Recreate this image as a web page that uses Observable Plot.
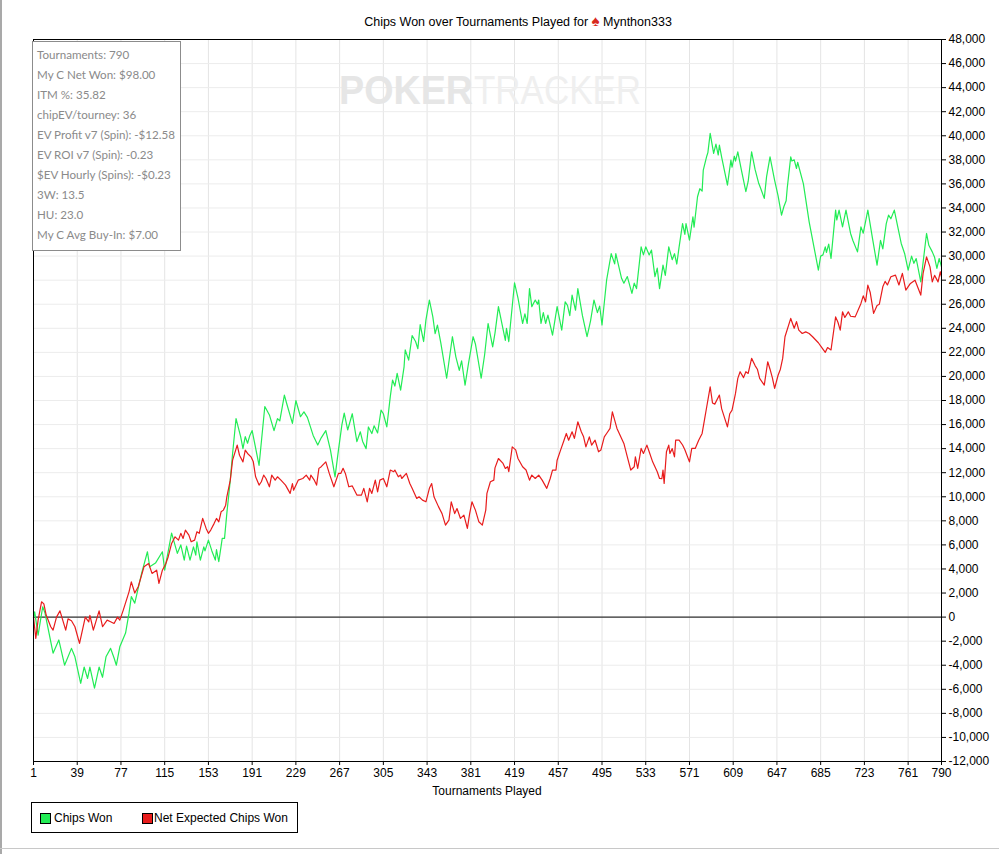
<!DOCTYPE html>
<html>
<head>
<meta charset="utf-8">
<script src="https://cdn.jsdelivr.net/npm/d3@7"></script>
<script src="https://cdn.jsdelivr.net/npm/@observablehq/plot@0.6"></script>
<style>
  body { margin: 0; background: #fff; }
  #wrap { position: relative; width: 999px; height: 854px; overflow: hidden; font-family: "Liberation Sans", Arial, sans-serif; color: #000; }
  #chart { position: absolute; left: 0; top: 0; }
  #title { position: absolute; left: 0; top: 14px; width: 1036px; text-align: center; font-size: 12.5px; line-height: 14px; white-space: nowrap; }
  #title .spade { color: #d8281c; font-size: 15px; }
  #stats { position: absolute; left: 32px; top: 41px; width: 149px; height: 210px; border: 1px solid #8c8c8c; background: #fff; font-family: Lato, "Open Sans", sans-serif; font-size: 11.6px; color: #8a8a8a; padding-top: 3px; box-sizing: border-box; }
  #stats div { height: 20px; line-height: 20px; padding-left: 4px; white-space: nowrap; }
  #xlabel { position: absolute; left: 0; top: 784px; width: 974px; text-align: center; font-size: 12px; line-height: 14px; }
  #legend { position: absolute; left: 31px; top: 802px; width: 267px; height: 31px; border: 1px solid #000; box-sizing: border-box; font-size: 12px; }
  #legend .sw { position: absolute; top: 10px; width: 9px; height: 9px; border: 1px solid #000; }
  #legend .lb { position: absolute; top: 8px; line-height: 14px; white-space: nowrap; }
  #wm { position: absolute; left: 0; top: 0; }
  #edgeL { position: absolute; left: 0; top: 0; width: 2px; height: 854px; background: #a9a9a9; }
  #edgeB { position: absolute; left: 0; top: 848px; width: 999px; height: 1px; background: #c8c8c8; }
</style>
</head>
<body>
<div id="wrap">
  <div id="chart"></div>
  <svg id="wm" width="999" height="120">
    <text id="wmP" x="339" y="104" font-family="Liberation Sans, Arial, sans-serif" font-size="40" font-weight="bold" fill="#e6e6e6" textLength="134" lengthAdjust="spacingAndGlyphs"></text>
    <text id="wmT" x="474" y="104" font-family="Liberation Sans, Arial, sans-serif" font-size="40" fill="#efefef" textLength="167" lengthAdjust="spacingAndGlyphs"></text>
  </svg>
  <div id="title"></div>
  <div id="stats"></div>
  <div id="xlabel"></div>
  <div id="legend"></div>
  <div id="edgeL"></div>
  <div id="edgeB"></div>
</div>
<script>
// ---- data ----
const titleText = "Chips Won over Tournaments Played for";
const playerName = "Mynthon333";
const xAxisTitle = "Tournaments Played";
const watermarkBold = "POKER";
const watermarkLight = "TRACKER";
const statsLines = [
  "Tournaments: 790",
  "My C Net Won: $98.00",
  "ITM %: 35.82",
  "chipEV/tourney: 36",
  "EV Profit v7 (Spin): -$12.58",
  "EV ROI v7 (Spin): -0.23",
  "$EV Hourly (Spins): -$0.23",
  "3W: 13.5",
  "HU: 23.0",
  "My C Avg Buy-In: $7.00"
];
const seriesNames = ["Chips Won", "Net Expected Chips Won"];
const seriesColors = ["#22ec55", "#e81c1c"];
const xTicks = [1,39,77,115,153,191,229,267,305,343,381,419,457,495,533,571,609,647,685,723,761,790];
const yTicks = [-12000,-10000,-8000,-6000,-4000,-2000,0,2000,4000,6000,8000,10000,12000,14000,16000,18000,20000,22000,24000,26000,28000,30000,32000,34000,36000,38000,40000,42000,44000,46000,48000];

// [tournament, chips]
const chipsWon = [[1,0],[2,440],[5,-1500],[9,860],[11,330],[18,-3000],[23,-1900],[28,-4000],[34,-2600],[37,-3300],[42,-5500],[45,-4150],[48,-5100],[50,-4150],[54,-5900],[58,-4150],[61,-5000],[64,-3300],[68,-2600],[71,-3400],[73,-4000],[76,-2470],[81,-1330],[84,330],[86,1700],[89,1160],[95,3650],[100,5430],[102,4180],[107,4490],[113,5430],[115,3900],[121,6980],[126,5300],[129,6000],[132,4740],[134,5900],[137,4740],[140,5840],[142,5150],[143,6260],[146,4740],[149,5840],[150,5500],[153,6400],[156,5500],[159,4740],[160,5600],[162,4600],[165,6540],[167,6540],[169,8620],[172,11380],[174,13600],[177,16500],[181,15000],[183,14000],[185,15000],[187,14450],[189,15100],[191,15500],[197,12600],[202,17500],[206,16800],[210,15500],[213,16500],[215,16300],[219,18450],[221,17750],[226,16100],[229,18000],[233,16650],[236,17060],[239,16600],[244,15100],[248,14300],[251,14900],[255,15500],[259,13900],[263,11650],[266,13900],[269,16000],[271,16950],[274,15550],[278,16900],[282,14580],[285,15400],[287,14600],[290,14000],[292,15800],[295,15250],[297,15900],[300,15300],[303,17200],[305,16900],[308,15800],[311,18300],[313,19700],[315,19200],[317,20250],[320,18860],[323,20800],[324,22200],[327,21360],[330,23400],[333,22900],[335,22300],[337,24300],[340,22900],[342,24700],[345,26350],[348,24950],[350,23550],[352,24270],[355,22750],[360,19850],[365,23300],[368,21630],[371,20500],[373,21300],[376,19280],[379,21080],[383,23300],[385,22700],[390,19850],[393,21800],[396,24400],[400,22460],[402,23600],[405,25800],[411,23000],[412,24000],[414,22900],[419,27780],[422,26500],[426,24400],[428,25200],[430,24400],[432,27300],[434,25800],[437,26350],[439,26000],[440,26350],[442,24400],[444,25300],[446,24400],[448,25100],[452,23430],[456,25800],[460,23850],[463,26200],[465,25900],[467,25050],[469,26760],[472,25500],[474,27300],[478,25050],[482,23300],[485,24600],[488,26350],[491,25300],[493,25850],[495,24270],[499,28000],[501,29100],[503,30200],[506,29350],[507,30200],[512,28150],[514,27750],[517,28300],[521,26900],[523,27750],[525,27300],[529,30770],[531,30100],[533,30770],[536,30100],[538,30500],[541,28300],[543,29000],[545,27300],[548,29250],[550,28400],[553,30770],[556,29700],[558,30200],[560,29340],[562,30770],[565,32700],[567,31800],[568,32700],[571,31330],[574,33270],[575,32400],[578,34930],[580,35600],[582,35400],[583,37150],[586,38300],[587,38600],[589,40200],[592,38530],[594,39300],[596,38400],[597,39220],[599,38200],[604,35900],[607,37980],[608,37400],[610,38300],[611,37900],[613,38670],[616,37200],[620,35350],[622,36200],[625,38670],[628,37200],[631,36100],[633,35600],[636,34800],[638,36600],[641,38250],[645,36300],[648,35000],[651,33400],[653,34100],[655,34600],[656,35700],[659,38250],[660,37900],[662,38000],[664,37280],[665,37800],[670,36000],[675,32850],[683,28840],[685,30000],[687,30100],[689,30770],[690,30300],[692,31000],[694,29800],[698,33820],[699,33000],[701,33820],[704,32430],[707,33820],[711,31880],[713,31300],[717,30350],[720,32430],[722,31900],[726,33820],[730,31500],[734,29250],[737,31300],[739,30600],[742,32700],[744,33400],[746,33100],[749,33820],[752,32430],[755,31050],[758,30200],[761,28840],[764,30000],[766,29400],[768,29800],[772,27860],[777,31880],[779,30900],[782,30350],[784,29900],[786,28980],[788,29800],[790,29100]];

const netExpected = [[1,0],[3,-1770],[5,-250],[8,1270],[10,1100],[12,170],[16,-800],[18,-1080],[21,0],[24,520],[29,-1080],[31,-150],[34,-300],[37,-800],[41,-2190],[46,0],[49,-400],[50,150],[53,-1080],[58,520],[61,-800],[65,-250],[68,-380],[71,-530],[74,0],[76,-250],[79,580],[84,2100],[86,2930],[89,2000],[92,2520],[97,4180],[101,4450],[104,3630],[108,3900],[110,2800],[113,3900],[116,4450],[118,5000],[121,6120],[124,6670],[127,6400],[129,6960],[131,6540],[133,7230],[136,6810],[138,6260],[141,6400],[143,7090],[145,6960],[148,8200],[151,7370],[153,6960],[155,7230],[158,7790],[160,8200],[162,7920],[164,8750],[166,8890],[168,9300],[169,10000],[172,11380],[174,13040],[178,14290],[180,13450],[183,12900],[185,13880],[187,13600],[190,13320],[192,12900],[194,11660],[197,10970],[199,11250],[201,11800],[203,11520],[206,10830],[208,11800],[211,11380],[213,11660],[216,11380],[220,10970],[224,10280],[226,11100],[227,10550],[231,11380],[235,11520],[238,11800],[241,11380],[242,11800],[245,11380],[247,10970],[249,12360],[251,12500],[255,12900],[258,11940],[262,10830],[266,11940],[268,11940],[270,12360],[272,11940],[275,10830],[278,10900],[282,10140],[286,10140],[288,10700],[291,9580],[293,10700],[295,10280],[298,11380],[300,10400],[302,11380],[305,11520],[308,10830],[311,12220],[314,12080],[315,12220],[318,11660],[320,11800],[321,11520],[325,11940],[328,11100],[330,10700],[334,9860],[336,10000],[339,9720],[342,9580],[345,10700],[347,11100],[349,10000],[353,9160],[356,8600],[359,7640],[362,8060],[364,9580],[367,8600],[369,9020],[372,8200],[375,8480],[378,7370],[380,8600],[382,9580],[385,8890],[388,7920],[391,7640],[394,8890],[395,10280],[398,11250],[401,11380],[402,12400],[405,13180],[409,12770],[411,12350],[413,12500],[414,12080],[417,14150],[420,13900],[422,13180],[426,12490],[429,12220],[432,11380],[434,11800],[437,11520],[440,11800],[443,11380],[447,10700],[450,11520],[452,12220],[455,12220],[456,13040],[459,13880],[462,14700],[464,15260],[466,14700],[469,15400],[471,14850],[474,16230],[477,15400],[479,14980],[481,14150],[484,14980],[486,14290],[489,14700],[492,13740],[494,13880],[497,14980],[499,15260],[502,15680],[504,17060],[506,16370],[508,15680],[512,14850],[514,14430],[517,13320],[520,12220],[523,12490],[524,13320],[526,12350],[529,14020],[531,13600],[534,14290],[536,13740],[539,12900],[543,12080],[545,11520],[547,11500],[548,12220],[549,11110],[551,13740],[553,14290],[554,13600],[556,14000],[558,13320],[559,14700],[562,14700],[565,14300],[567,13900],[571,12900],[573,14020],[576,14020],[579,14700],[582,15260],[584,16370],[586,17480],[589,19140],[591,17800],[593,17700],[597,18450],[599,17300],[604,15810],[606,16900],[608,17200],[611,18590],[613,19840],[615,20390],[618,19900],[620,20390],[622,20250],[625,21500],[628,20900],[630,20600],[632,19840],[636,19280],[639,21220],[641,20600],[643,19900],[645,19000],[648,20100],[650,20600],[652,21500],[654,23300],[659,24820],[662,24000],[664,24550],[666,23850],[669,23570],[672,23700],[675,23570],[678,23300],[683,22800],[686,22400],[689,22000],[691,22400],[694,22200],[698,24950],[700,24500],[702,23850],[704,25370],[706,24900],[709,25370],[711,25000],[715,24950],[720,26070],[722,26700],[724,26200],[726,27590],[728,27000],[731,25240],[734,25900],[736,26000],[739,27450],[741,27900],[743,27600],[746,28280],[750,28420],[753,27600],[756,28560],[759,27170],[763,27730],[767,28000],[772,26760],[774,28560],[777,29940],[780,29100],[782,27860],[784,28400],[787,27860],[789,28700],[790,28280]];

// ---- build ----
const fmt = d => d.toLocaleString("en-US");
const chart = Plot.plot({
  width: 999,
  height: 854,
  marginLeft: 33,
  marginRight: 58,
  marginTop: 39,
  marginBottom: 93,
  x: {domain: [1, 790]},
  y: {domain: [-12000, 48000]},
  style: {fontFamily: "Liberation Sans, Arial, sans-serif", fontSize: "12px", color: "#000", background: "transparent", overflow: "visible"},
  marks: [
    Plot.gridX(xTicks, {stroke: "#e4e4e4", strokeOpacity: 1}),
    Plot.gridY(yTicks, {stroke: "#ececec", strokeOpacity: 1}),
    Plot.ruleY([0], {stroke: "#000", strokeWidth: 1}),
    Plot.line(chipsWon, {x: d => d[0], y: d => d[1], stroke: seriesColors[0], strokeWidth: 1.2, curve: "linear"}),
    Plot.line(netExpected, {x: d => d[0], y: d => d[1], stroke: seriesColors[1], strokeWidth: 1.2, curve: "linear"}),
    Plot.frame({stroke: "#000", strokeWidth: 1}),
    Plot.axisY(yTicks, {anchor: "right", tickSize: 4, tickPadding: 3, tickFormat: fmt, label: null, fill: "#000"}),
    Plot.axisX(xTicks, {anchor: "bottom", tickSize: 4, tickPadding: 3, tickFormat: d => String(d), label: null, fill: "#000"})
  ]
});
document.getElementById("chart").appendChild(chart);

document.getElementById("title").innerHTML =
  titleText + " <span class='spade'>\u2660</span> " + playerName;
document.getElementById("xlabel").textContent = xAxisTitle;
document.getElementById("wmP").textContent = watermarkBold;
document.getElementById("wmT").textContent = watermarkLight;

const stats = document.getElementById("stats");
statsLines.forEach(s => { const d = document.createElement("div"); d.textContent = s; stats.appendChild(d); });

const legend = document.getElementById("legend");
const legendPos = [[8, 22], [110, 122]];
seriesNames.forEach((name, i) => {
  const sw = document.createElement("div");
  sw.className = "sw";
  sw.style.left = legendPos[i][0] + "px";
  sw.style.background = seriesColors[i];
  legend.appendChild(sw);
  const lb = document.createElement("div");
  lb.className = "lb";
  lb.style.left = legendPos[i][1] + "px";
  lb.textContent = name;
  legend.appendChild(lb);
});
</script>
</body>
</html>
